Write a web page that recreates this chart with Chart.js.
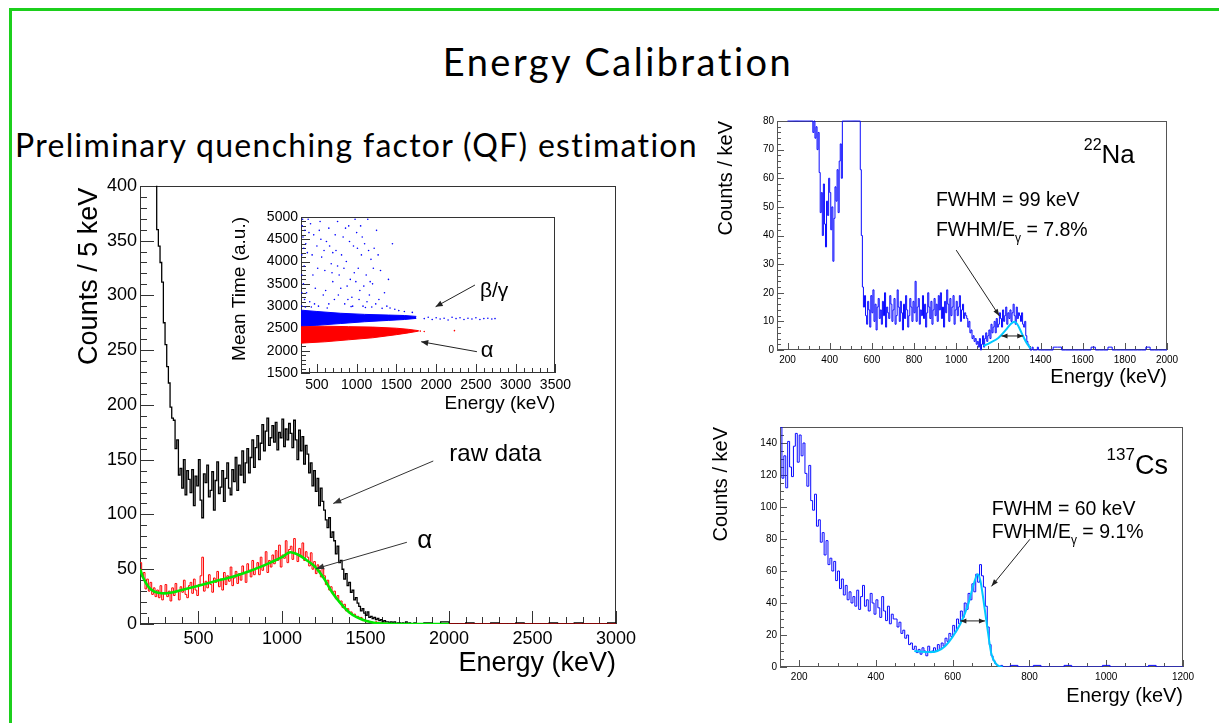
<!DOCTYPE html>
<html>
<head>
<meta charset="utf-8">
<script src="https://cdn.jsdelivr.net/npm/chart.js@4.4.0/dist/chart.umd.min.js"></script>
<style>
  html, body { margin: 0; padding: 0; background: #fff; }
  body { width: 1219px; height: 723px; position: relative; overflow: hidden; }
  #frame { position: absolute; left: 9px; top: 8px; width: 1300px; height: 800px; border: 3px solid #1ccf1c; box-sizing: border-box; }
  .txt { position: absolute; font-family: Lato, sans-serif; color: #000; white-space: nowrap; line-height: 1; font-variant-ligatures: none; }
  canvas { position: absolute; }
</style>
</head>
<body>
<div id="frame"></div>
<div class="txt" style="left:0; width:1236px; text-align:center; top:42px; font-size:38px; letter-spacing:2.5px;">Energy Calibration</div>
<div class="txt" style="left:15px; top:129px; font-size:32px; letter-spacing:1.3px;">Preliminary quenching factor (QF) estimation</div>

<canvas id="mainChart" width="580" height="518" style="left:60px; top:172px;"></canvas>
<canvas id="insetChart" width="354" height="215" style="left:221px; top:205px;"></canvas>
<canvas id="naChart" width="490" height="285" style="left:700px; top:108px;"></canvas>
<canvas id="csChart" width="505" height="300" style="left:700px; top:415px;"></canvas>

<script>
// ---- main spectrum: counts / 5 keV, 10 keV steps from 150 keV ----
const rawStart = 150;
const rawCounts = [
  420,420,420,420,420,420,420,420,420,420,   // 150
  360,345,330,312,275,255,235,220,198,188,   // 250
  186,160,168,136,142,124,150,118,140,132,   // 350
  120,141,108,135,126,150,113,97,137,129,    // 450
  145,116,122,139,104,131,148,119,125,140,   // 550
  112,133,147,124,118,141,130,152,122,145,   // 650
  136,158,129,147,160,138,152,168,143,161,   // 750
  172,150,165,182,158,176,188,163,170,181,   // 850
  166,184,159,175,170,187,162,178,168,183,   // 950
  174,161,186,168,150,177,158,171,146,163,   // 1050
  155,138,147,126,140,121,133,108,124,112,   // 1150
  104,95,88,97,79,84,76,64,71,56,            // 1250
  58,50,41,46,35,38,29,31,22,24,             // 1350
  19,16,12,14,10,8,11,6,7,5,                 // 1450
  6,4,5,3,4,2,3,2,2,1,                       // 1550
  2,1,2,0,1,1,0,1,0,2,                       // 1650
  0,1,0,0,1                                  // 1750
];
const rawTailStart = 1800;
const rawTail = [0,1,0,2,0,0,1,0,0,1,0,0,1,0,0,0,1,0,0,1,0,0,0,1]; // 50 keV steps

const alphaCounts = [
  56,43,47,32,41,30,38,27,33,25,   // 150
  31,24,35,22,28,36,25,30,21,33,   // 250
  26,37,30,22,34,29,40,27,24,35,   // 350
  38,28,41,31,26,36,44,61,30,39,   // 450
  33,45,36,29,42,38,48,34,41,31,   // 550
  47,36,44,39,52,35,42,48,37,46,   // 650
  40,53,46,38,55,49,43,58,45,51,   // 750
  56,45,61,49,53,66,47,58,52,63,   // 850
  55,67,58,72,52,63,60,76,56,68,   // 950
  71,59,78,64,57,69,62,74,58,66,   // 1050
  61,53,65,50,57,46,54,49,43,51,   // 1150
  44,36,40,31,34,28,30,23,26,20,   // 1250
  21,15,18,12,14,10,11,8,9,6,      // 1350
  7,5,6,3,4,2,3,2,2,1,             // 1450
  1,2,1,0,1,0,1,0,0,0              // 1550
];
const alphaTailStart = 1650;
const alphaTail = [0,0,0,0,0,0,0,0,0,0,0,0,0,0,0,0,0,0,0,0,0,0,0,0,0,0,0]; // 50 keV steps

const fitE = [150,170,200,230,260,300,350,400,500,600,700,800,900,1000,1050,1100,1150,1200,1250,1300,1350,1400,1450,1500,1550,1600,1700,2000];
const fitV = [50,42,34,30,28.5,28,29,31,35,39,43,48,54,61,65.5,63,58,52,42,29,19,11,6,3,1.2,0.4,0,0];

const mainXTicks = [500,1000,1500,2000,2500,3000];
const mainYTicks = [0,50,100,150,200,250,300,350,400];

// ---- inset: mean time vs energy ----
const blueBandE = [300,500,800,1100,1400,1600,1750];
const blueBandHi = [2910,2880,2840,2815,2800,2790,2770];
const blueBandLo = [2560,2570,2610,2650,2680,2700,2725];
const redBandE = [300,600,900,1200,1500,1650,1780];
const redBandHi = [2555,2550,2540,2530,2505,2480,2450];
const redBandLo = [2170,2200,2245,2290,2360,2400,2440];
const blueDots = [
  [320,4950],[350,4700],[380,4200],[340,3900],[420,4850],[460,4600],[500,4350],[540,4900],[560,4100],[600,3800],
  [330,3500],[370,3300],[410,3100],[450,3700],[480,3400],[520,3000],[580,3250],[620,4450],[650,4750],[680,3950],
  [700,3550],[720,3150],[740,4250],[760,4900],[780,3700],[800,3400],[830,4550],[850,3050],[870,4000],[900,4800],
  [920,3600],[940,3200],[960,4350],[980,4950],[1000,4650],[1020,3850],[1040,3350],[1060,4150],[1080,3000],[1100,4400],
  [1120,3700],[1140,4950],[1160,3250],[1180,4050],[1200,3500],[1250,4700],[1280,3150],[1300,3800],[1350,3300],[1400,3600],
  [1450,4400],[1320,2950],[1220,4300],[950,3000],[650,3050],[430,2980],[360,4400],[390,4950],[310,4150],[310,3700],
  [310,3300],[310,3000],[700,4200],[880,3450],[1010,4300],[1130,3100],[550,4500],[760,3900],[1050,4800],[990,3550],
  [315,4800],[325,4550],[335,4300],[345,3150],[355,2980],[400,4650],[440,4150],[470,3050],[510,3850],[530,4700],
  [590,4250],[610,3350],[630,2960],[660,4350],[690,3750],[730,4600],[770,3250],[810,4150],[840,3850],[860,4750],
  [890,3150],[910,4450],[930,2990],[970,3750],[1030,3150],[1070,4550],[1090,3450],[1110,2970],[1150,4250],[1170,3550],
  [1190,2980],[1210,3850],[1240,3050],[1270,4150],[1380,3000],[1420,2960],[1480,2930],[1530,2900],[1600,2880],[1700,2860],
  [1850,2720],[1900,2750],[1950,2700],[2000,2740],[2050,2710],[2100,2730],[2150,2690],[2200,2750],[2250,2720],[2300,2740],
  [2350,2700],[2400,2730],[2450,2710],[2500,2740],[2550,2700],[2600,2720],[2650,2730],[2700,2710],[2740,2720]
];
const redDots = [[1800,2440],[1850,2430],[2230,2450]];
const insetXTicks = [500,1000,1500,2000,2500,3000,3500];
const insetYTicks = [1500,2000,2500,3000,3500,4000,4500,5000];

// ---- 22Na: counts / keV, 5 keV steps from 200 keV ----
const naStart = 200;
const naCounts = [
  80,80,80,80,80,80,80,80,80,80,   // 200
  80,80,80,80,80,80,80,80,80,80,   // 250
  80,80,80,80,76,80,74,78,70,76,   // 300
  62,48,55,40,58,44,36,52,47,60,   // 350
  55,42,50,31,46,57,52,63,48,66,   // 400
  72,60,80,80,80,80,80,80,80,80,   // 450
  80,80,80,80,80,80,80,80,80,63,   // 500
  40,22,15,19,12,9,17,14,8,19,     // 550
  13,21,10,16,7,15,18,11,14,9,     // 600
  17,12,20,8,15,13,11,19,16,10,    // 650
  14,18,9,12,21,15,10,17,13,7,     // 700
  16,11,19,14,8,12,18,15,10,17,    // 750
  13,24,10,15,18,9,14,12,19,11,    // 800
  16,8,13,20,15,11,17,9,14,18,     // 850
  12,16,10,19,14,20,11,15,8,17,    // 900
  13,21,16,10,18,12,15,19,9,14,    // 950
  17,12,15,19,10,14,16,11,13,12,   // 1000
  11,8,10,6,7,4,5,3,4,2,           // 1050
  3,1,4,0,2,5,1,4,6,3,             // 1100
  5,7,4,9,6,8,10,6,11,8,           // 1150
  9,13,11,8,14,10,12,15,9,13,      // 1200
  11,14,10,13,16,12,9,15,11,13,    // 1250
  12,10,13,9,8,10,5,3,2,1,         // 1300
  0,0,1,0,0,0,0,1,0,0              // 1350
];
const naTailStart = 1400;
const naTail = [0,0,0,1,1,0,0,0,0,0,0,0,1,0,0,0,1,0,0,0,0,0,0,0,0,1,0,0,0,0]; // 20 keV steps
const naFitE = [1130,1160,1200,1240,1260,1276,1290,1310,1330,1352];
const naFitV = [1.4,2.5,4.2,7.4,9.2,9.9,9.0,6.0,3.0,0.5];
const naXTicks = [200,400,600,800,1000,1200,1400,1600,1800,2000];
const naYTicks = [0,10,20,30,40,50,60,70,80];

// ---- 137Cs: counts / keV, 5 keV steps from 150 keV ----
const csStart = 150;
const csCounts = [
  150,118,132,112,141,125,119,138,146,128,   // 150
  145,132,140,121,113,126,104,98,108,88,     // 200
  92,78,84,70,79,64,68,60,66,54,             // 250
  60,49,55,45,51,42,47,40,44,38,             // 300
  48,36,44,51,38,42,35,46,40,33,             // 350
  42,37,31,44,35,29,38,27,33,30,             // 400
  30,25,28,21,23,18,20,14,15,11,             // 450
  13,9,11,8,12,10,7,13,9,10,                 // 500
  12,10,14,11,15,13,18,16,21,19,             // 550
  26,22,30,27,35,31,40,36,46,42,             // 600
  52,47,58,53,64,57,50,38,25,14,             // 650
  7,4,2,1,0,1                                // 700
];
const csTailStart = 730;
const csTail = [0,1,0,0,1,0,0,0,1,0,0,0,0,1,0,0,0,0,0,1,0,0,0,0]; // 20 keV steps
const csFitE = [500,540,560,580,600,620,640,655,665,672,680,690,700,710,720,730];
const csFitV = [10,9.3,10,13,19,27,39,52,58,54,42,25,9,3,0.5,0];
const csXTicks = [200,400,600,800,1000,1200];
const csYTicks = [0,20,40,60,80,100,120,140];

// ---------- helpers ----------
function hist(start, width, values) {
  const pts = values.map((v, i) => ({x: start + i * width, y: v}));
  pts.push({x: start + values.length * width, y: values[values.length - 1]});
  return pts;
}
function pairs(xs, ys) { return xs.map((x, i) => ({x: x, y: ys[i]})); }

const FONT = '"Liberation Sans", Arial, sans-serif';

function axis(min, max, ticks, size, fixed, horizontal) {
  return {
    type: 'linear', min: min, max: max,
    afterBuildTicks: s => { s.ticks = ticks.map(v => ({value: v})); },
    afterFit: s => { if (horizontal) s.height = fixed; else s.width = fixed; },
    ticks: { font: {family: FONT, size: size}, color: '#000', padding: horizontal ? 4 : 3,
             maxRotation: 0, autoSkip: false, callback: v => String(v) },
    grid: { display: false, drawTicks: false },
    border: { display: false }
  };
}

function drawParts(ctx, x, y, parts, size, align) {
  const segs = parts.map(p => {
    const s = (p.sup || p.sub) ? Math.round(size * 0.62) : size;
    ctx.font = s + 'px ' + FONT;
    return {p: p, s: s, w: ctx.measureText(p.t).width};
  });
  const total = segs.reduce((a, g) => a + g.w, 0);
  let cx = align === 'right' ? x - total : (align === 'center' ? x - total / 2 : x);
  ctx.textAlign = 'left';
  ctx.textBaseline = 'alphabetic';
  segs.forEach(g => {
    ctx.font = g.s + 'px ' + FONT;
    const dy = g.p.sup ? -size * 0.52 : (g.p.sub ? size * 0.3 : 0);
    ctx.fillText(g.p.t, cx, y + dy);
    cx += g.w;
  });
}

function arrowHead(ctx, x1, y1, x2, y2, len, half) {
  const a = Math.atan2(y2 - y1, x2 - x1);
  ctx.beginPath();
  ctx.moveTo(x2, y2);
  ctx.lineTo(x2 - len * Math.cos(a) + half * Math.sin(a), y2 - len * Math.sin(a) - half * Math.cos(a));
  ctx.lineTo(x2 - len * Math.cos(a) - half * Math.sin(a), y2 - len * Math.sin(a) + half * Math.cos(a));
  ctx.closePath();
  ctx.fill();
}

function drawTicks(ctx, scale, area, t, horizontal) {
  const first = Math.ceil(scale.min / t.minor - 1e-9);
  const last = Math.floor(scale.max / t.minor + 1e-9);
  const per = Math.round(t.major / t.minor);
  for (let k = first; k <= last; k++) {
    const len = (k % per === 0) ? t.lenMajor : t.lenMinor;
    const p = Math.round(scale.getPixelForValue(k * t.minor)) + 0.5;
    ctx.beginPath();
    if (horizontal) { ctx.moveTo(p, area.bottom); ctx.lineTo(p, area.bottom - len); }
    else { ctx.moveTo(area.left, p); ctx.lineTo(area.left + len, p); }
    ctx.stroke();
  }
}

// ROOT-like frame, inward ticks, axis titles and annotations
function rootLook(cfg) {
  return {
    id: 'rootLook',
    beforeDatasetsDraw(chart) {
      const {ctx, chartArea: a, scales} = chart;
      ctx.save();
      ctx.strokeStyle = cfg.frame || '#333';
      ctx.lineWidth = 1;
      ctx.strokeRect(Math.round(a.left) + 0.5, Math.round(a.top) + 0.5,
                     Math.round(a.right - a.left) - 1, Math.round(a.bottom - a.top) - 1);
      drawTicks(ctx, scales.x, a, cfg.xt, true);
      drawTicks(ctx, scales.y, a, cfg.yt, false);
      ctx.restore();
    },
    afterDatasetsDraw(chart) {
      const {ctx, chartArea: a, scales} = chart;
      const X = v => scales.x.getPixelForValue(v), Y = v => scales.y.getPixelForValue(v);
      ctx.save();
      ctx.fillStyle = '#000';
      // axis titles
      ctx.font = cfg.titleSize + 'px ' + FONT;
      ctx.textAlign = 'right';
      ctx.textBaseline = 'alphabetic';
      ctx.fillText(cfg.xTitle, a.right + (cfg.xTitleDx || 0), a.bottom + cfg.xTitleDy);
      ctx.save();
      ctx.translate(a.left + cfg.yTitleDx, a.top + (cfg.yTitleDy || 0));
      ctx.rotate(-Math.PI / 2);
      ctx.textBaseline = 'middle';
      ctx.fillText(cfg.yTitle, 0, 0);
      ctx.restore();
      // notes in data coordinates
      (cfg.notes || []).forEach(n => {
        if (n.type === 'text') {
          ctx.fillStyle = n.color || '#000';
          drawParts(ctx, X(n.x), Y(n.y), n.parts, n.size, n.align || 'left');
        } else {
          const x1 = X(n.from[0]), y1 = Y(n.from[1]), x2 = X(n.to[0]), y2 = Y(n.to[1]);
          ctx.strokeStyle = n.color || '#222';
          ctx.fillStyle = n.color || '#222';
          ctx.lineWidth = n.width || 1;
          ctx.beginPath(); ctx.moveTo(x1, y1); ctx.lineTo(x2, y2); ctx.stroke();
          arrowHead(ctx, x1, y1, x2, y2, n.head || 8, n.half || 3);
          if (n.both) arrowHead(ctx, x2, y2, x1, y1, n.head || 8, n.half || 3);
        }
      });
      ctx.restore();
    }
  };
}

function baseOptions(box, xs, ys) {
  return {
    responsive: false, animation: false, devicePixelRatio: 1, events: [],
    layout: { padding: { left: 0, top: box.top, right: box.right, bottom: 0 } },
    plugins: { legend: { display: false }, tooltip: { enabled: false } },
    elements: { point: { radius: 0 }, line: { tension: 0 } },
    scales: { x: xs, y: ys }
  };
}

// ---------- main chart ----------
new Chart(document.getElementById('mainChart'), {
  type: 'line',
  data: {
    datasets: [
      { data: pairs(fitE, fitV), borderColor: '#00e600', borderWidth: 2.6, cubicInterpolationMode: 'monotone', fill: false },
      { data: hist(rawStart, 10, alphaCounts).concat(hist(alphaTailStart, 50, alphaTail)), borderColor: '#ff0000', borderWidth: 1, stepped: true, fill: false },
      { data: hist(rawStart, 10, rawCounts).concat(hist(rawTailStart, 50, rawTail)), borderColor: '#000000', borderWidth: 1.3, stepped: true, fill: false }
    ]
  },
  options: baseOptions({top: 11, right: 23},
    axis(150, 3000, mainXTicks, 18, 66, true),
    axis(0, 400, mainYTicks, 18, 80, false)),
  plugins: [rootLook({
    xt: {minor: 100, major: 500, lenMajor: 13, lenMinor: 7},
    yt: {minor: 10, major: 50, lenMajor: 14, lenMinor: 7},
    titleSize: 27, xTitle: 'Energy (keV)', xTitleDy: 47, yTitle: 'Counts / 5 keV', yTitleDx: -50, yTitleDy: 2,
    notes: [
      {type: 'text', x: 2002, y: 149, parts: [{t: 'raw data'}], size: 24},
      {type: 'arrow', from: [1906, 148.8], to: [1307, 110], color: '#333'},
      {type: 'text', x: 1810, y: 69, parts: [{t: 'α'}], size: 26},
      {type: 'arrow', from: [1748, 74.6], to: [1204, 50.5], color: '#333'}
    ]
  })]
});

// ---------- inset ----------
new Chart(document.getElementById('insetChart'), {
  type: 'scatter',
  data: {
    datasets: [
      { type: 'line', data: pairs(blueBandE, blueBandLo), borderColor: '#0000ff', borderWidth: 1, fill: false },
      { type: 'line', data: pairs(blueBandE, blueBandHi), borderColor: '#0000ff', borderWidth: 1, backgroundColor: '#0000ff', fill: '-1' },
      { type: 'line', data: pairs(redBandE, redBandLo), borderColor: '#ff0000', borderWidth: 1, fill: false },
      { type: 'line', data: pairs(redBandE, redBandHi), borderColor: '#ff0000', borderWidth: 1, backgroundColor: '#ff0000', fill: '-1' },
      { data: blueDots.map(p => ({x: p[0], y: p[1]})), pointRadius: 0.8, pointBackgroundColor: '#0000ff', pointBorderWidth: 0 },
      { data: redDots.map(p => ({x: p[0], y: p[1]})), pointRadius: 0.8, pointBackgroundColor: '#ff0000', pointBorderWidth: 0 }
    ]
  },
  options: baseOptions({top: 12, right: 15},
    axis(300, 3500, insetXTicks, 14, 47, true),
    axis(1500, 5000, insetYTicks, 14, 80, false)),
  plugins: [rootLook({
    xt: {minor: 100, major: 500, lenMajor: 9, lenMinor: 5},
    yt: {minor: 100, major: 500, lenMajor: 9, lenMinor: 5},
    titleSize: 19, xTitle: 'Energy (keV)', xTitleDy: 36, yTitle: 'Mean Time (a.u.)', yTitleDx: -61, yTitleDy: 0,
    notes: [
      {type: 'text', x: 2550, y: 3205, parts: [{t: 'β/γ'}], size: 21},
      {type: 'arrow', from: [2488, 3474], to: [1993, 2987], head: 7},
      {type: 'text', x: 2562, y: 1859, parts: [{t: 'α'}], size: 22},
      {type: 'arrow', from: [2513, 1978], to: [1812, 2202], head: 7}
    ]
  })]
});

// ---------- 22Na ----------
new Chart(document.getElementById('naChart'), {
  type: 'line',
  data: {
    datasets: [
      { data: pairs(naFitE, naFitV), borderColor: '#00c8ff', borderWidth: 2, cubicInterpolationMode: 'monotone', fill: false },
      { data: hist(naStart, 5, naCounts).concat(hist(naTailStart, 20, naTail)), borderColor: '#0a0aff', borderWidth: 1, stepped: true, fill: false, clip: 2 }
    ]
  },
  options: baseOptions({top: 13, right: 23},
    axis(150, 2000, naXTicks, 10, 43, true),
    axis(0, 80, naYTicks, 10, 77, false)),
  plugins: [rootLook({
    xt: {minor: 50, major: 200, lenMajor: 7, lenMinor: 4},
    yt: {minor: 2, major: 10, lenMajor: 7, lenMinor: 4},
    titleSize: 20, xTitle: 'Energy (keV)', xTitleDy: 33, yTitle: 'Counts / keV', yTitleDx: -51, yTitleDy: 0,
    frame: '#555',
    notes: [
      {type: 'text', x: 1605, y: 65.2, parts: [{t: '22', sup: true}, {t: 'Na'}], size: 26},
      {type: 'text', x: 904, y: 50.2, parts: [{t: 'FWHM = 99 keV'}], size: 19.5},
      {type: 'text', x: 904, y: 39.8, parts: [{t: 'FWHM/E'}, {t: 'γ', sub: true}, {t: ' = 7.8%'}], size: 19.5},
      {type: 'arrow', from: [1000, 34.9], to: [1205, 11.9], head: 7, half: 2.5},
      {type: 'arrow', from: [1215, 4.9], to: [1318, 4.9], both: true, head: 6, half: 2.5}
    ]
  })]
});

// ---------- 137Cs ----------
new Chart(document.getElementById('csChart'), {
  type: 'line',
  data: {
    datasets: [
      { data: pairs(csFitE, csFitV), borderColor: '#00c8ff', borderWidth: 2, cubicInterpolationMode: 'monotone', fill: false },
      { data: hist(csStart, 5, csCounts).concat(hist(csTailStart, 20, csTail)), borderColor: '#0a0aff', borderWidth: 1, stepped: true, fill: false }
    ]
  },
  options: baseOptions({top: 12, right: 22},
    axis(150, 1200, csXTicks, 10, 48, true),
    axis(0, 150, csYTicks, 10, 80, false)),
  plugins: [rootLook({
    xt: {minor: 50, major: 200, lenMajor: 7, lenMinor: 4},
    yt: {minor: 5, major: 20, lenMajor: 7, lenMinor: 4},
    titleSize: 20, xTitle: 'Energy (keV)', xTitleDy: 35, yTitle: 'Counts / keV', yTitleDx: -59, yTitleDy: 0,
    frame: '#555',
    notes: [
      {type: 'text', x: 1001, y: 120.7, parts: [{t: '137', sup: true}, {t: 'Cs'}], size: 27},
      {type: 'text', x: 702, y: 94.9, parts: [{t: 'FWHM = 60 keV'}], size: 19.5},
      {type: 'text', x: 702, y: 80.4, parts: [{t: 'FWHM/E'}, {t: 'γ', sub: true}, {t: ' = 9.1%'}], size: 19.5},
      {type: 'arrow', from: [801, 79.8], to: [701, 50.4], head: 7, half: 2.5},
      {type: 'arrow', from: [620, 28.8], to: [684, 28.8], both: true, head: 6, half: 2.5}
    ]
  })]
});
</script>
</body>
</html>
